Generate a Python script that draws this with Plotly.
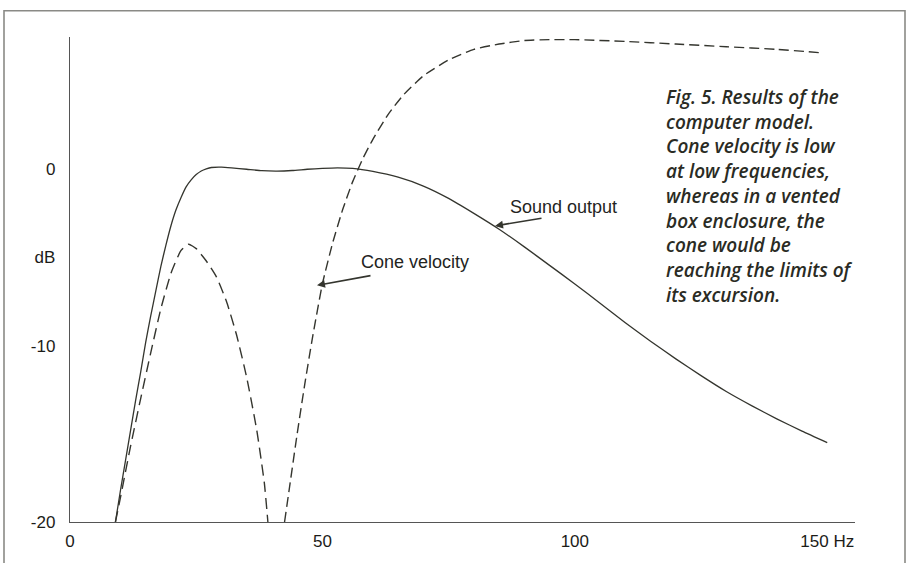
import plotly.graph_objects as go

# ---- data ----
sound_hz = [9, 10, 11, 12, 13, 14, 15, 16, 17, 18, 19, 20, 21, 22, 23, 24, 25, 26, 27, 28,
            30, 32, 35, 38, 41, 44, 47, 50, 53, 56, 60, 65, 70, 75, 80, 85, 90, 95, 100,
            105, 110, 115, 120, 125, 130, 135, 140, 145, 150]
sound_db = [-20, -18.2, -16.5, -14.8, -13.1, -11.5, -9.8, -8.3, -6.9, -5.5, -4.3, -3.2, -2.3, -1.6,
            -1.0, -0.6, -0.3, -0.1, 0.02, 0.1,
            0.12, 0.08, 0.0, -0.08, -0.1, -0.07, 0.0, 0.05, 0.08, 0.05, -0.12, -0.45, -0.95, -1.65,
            -2.5, -3.4, -4.4, -5.45, -6.5, -7.6, -8.7, -9.75, -10.75, -11.7, -12.6, -13.4, -14.15,
            -14.85, -15.5]

cone_low_hz = [9, 10, 12, 14, 16, 18, 20, 22, 23.5, 25, 27, 29, 31, 33, 35, 37, 38.5, 39.2]
cone_low_db = [-20, -18.6, -15.7, -13.0, -10.4, -7.9, -5.9, -4.6, -4.25, -4.5, -5.2, -6.1,
               -7.5, -9.4, -11.8, -14.8, -17.8, -20]

cone_high_hz = [42.5, 43.5, 45, 46.5, 48, 50, 52, 54, 56, 58, 60, 63, 66, 70, 75, 80, 85, 90,
                95, 100, 110, 120, 130, 140, 149]
cone_high_db = [-20, -18, -15, -12.2, -9.6, -6.5, -4.2, -2.3, -0.7, 0.6, 1.7, 3.1, 4.2, 5.3,
                6.2, 6.8, 7.1, 7.3, 7.35, 7.35, 7.25, 7.1, 6.95, 6.8, 6.6]

x_tickvals = [0, 50, 100, 150]
x_ticktext = ["0", "50", "100", "150 Hz"]
y_tickvals = [0, -5, -10, -20]
y_ticktext = ["0", "dB", "-10", "-20"]

caption = ("Fig. 5. Results of the<br>computer model.<br>Cone velocity is low<br>"
           "at low frequencies,<br>whereas in a vented<br>box enclosure, the<br>"
           "cone would be<br>reaching the limits of<br>its excursion.")

# ---- layout geometry (pixels) ----
W, H = 909, 563
L, T, R, B = 70, 37, 54, 28
PW, PH = W - L - R, H - T - B


def px(x):
    return (x - L) / PW


def py(y):
    return (H - B - y) / PH


ink = "#34352e"

fig = go.Figure()
fig.add_trace(go.Scatter(x=sound_hz, y=sound_db, mode="lines",
                         line=dict(color=ink, width=1.3, shape="spline", smoothing=0.5),
                         showlegend=False, hoverinfo="skip"))
fig.add_trace(go.Scatter(x=cone_low_hz, y=cone_low_db, mode="lines",
                         line=dict(color=ink, width=1.4, dash="11px,6px", shape="spline", smoothing=0.5),
                         showlegend=False, hoverinfo="skip"))
fig.add_trace(go.Scatter(x=cone_high_hz, y=cone_high_db, mode="lines",
                         line=dict(color=ink, width=1.4, dash="10px,5px", shape="spline", smoothing=0.5),
                         showlegend=False, hoverinfo="skip"))

tickfont = dict(family="Liberation Sans, Arial, sans-serif", size=17, color="#1c1c18")

fig.update_layout(
    width=W, height=H,
    margin=dict(l=L, r=R, t=T, b=B, pad=0),
    paper_bgcolor="white", plot_bgcolor="white",
    xaxis=dict(range=[0, 155.5], showgrid=False, zeroline=False, showline=True,
               linecolor="#555", linewidth=1.4, tickvals=x_tickvals, ticktext=x_ticktext,
               ticks="", tickfont=tickfont, ticklabelstandoff=3, fixedrange=True),
    yaxis=dict(range=[-20, 7.5], showgrid=False, zeroline=False, showline=True,
               linecolor="#555", linewidth=1.4, tickvals=y_tickvals, ticktext=y_ticktext,
               ticks="", tickfont=tickfont, ticklabelstandoff=10, fixedrange=True),
)

# outer frame of the figure
fig.add_shape(type="rect", xref="paper", yref="paper",
              x0=px(4), x1=px(905), y0=py(600), y1=py(10),
              line=dict(color="#8a8a86", width=1.6), layer="below")

labfont = dict(family="Liberation Sans, Arial, sans-serif", size=18, color="#23241e")
fig.add_annotation(xref="paper", yref="paper", x=px(563), y=py(212), text="Sound output",
                   showarrow=False, font=labfont, xanchor="center", yanchor="middle")
fig.add_annotation(xref="paper", yref="paper", x=px(415), y=py(268), text="Cone velocity",
                   showarrow=False, font=labfont, xanchor="center", yanchor="middle")

# arrows
fig.add_annotation(xref="paper", yref="paper", x=px(495), y=py(231), text="",
                   showarrow=True, ax=48, ay=-8, arrowhead=2, arrowsize=1, arrowwidth=1.6,
                   arrowcolor=ink)
fig.add_annotation(xref="paper", yref="paper", x=px(317), y=py(292), text="",
                   showarrow=True, ax=55, ay=-10, arrowhead=2, arrowsize=1, arrowwidth=1.6,
                   arrowcolor=ink)

fig.add_annotation(xref="paper", yref="paper", x=px(664), y=py(83), text=caption,
                   showarrow=False, xanchor="left", yanchor="top", align="left",
                   font=dict(family="Open Sans, sans-serif", size=19, color="#2a2b24",
                             style="italic", weight=600))

fig.write_html("out.html")
